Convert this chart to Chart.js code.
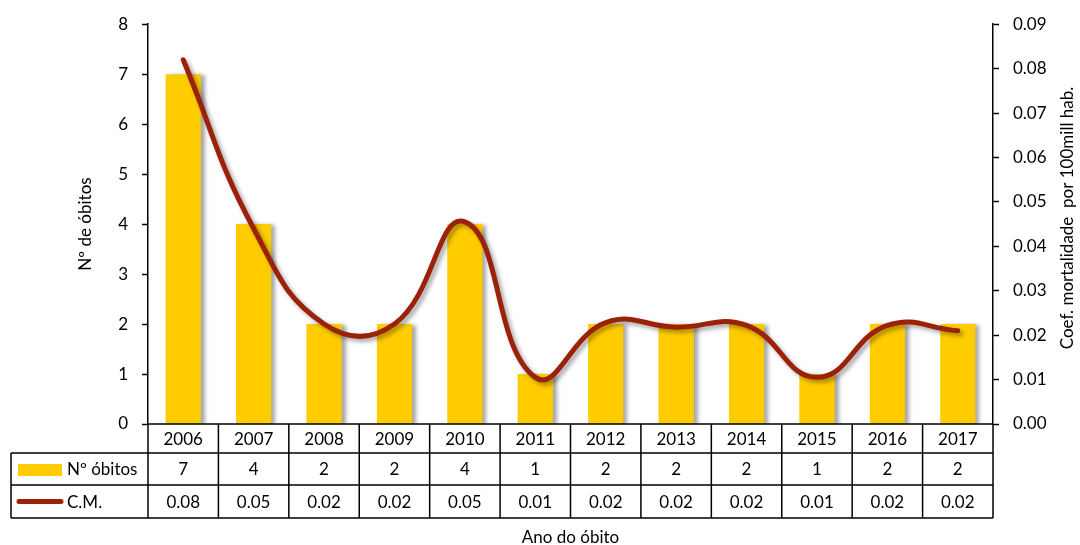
<!DOCTYPE html>
<html>
<head>
<meta charset="utf-8">
<script src="https://cdn.jsdelivr.net/npm/chart.js@4"></script>
<style>
  html, body { margin: 0; padding: 0; background: #fff; }
  #wrap { width: 1080px; height: 545px; }
</style>
</head>
<body>
<div id="wrap"><canvas id="chart" width="1080" height="545"></canvas></div>
<script>
// data
const anos = ['2006', '2007', '2008', '2009', '2010', '2011', '2012', '2013', '2014', '2015', '2016', '2017'];
const obitos = [7, 4, 2, 2, 4, 1, 2, 2, 2, 1, 2, 2];
const coefMort = [0.082, 0.044, 0.0225, 0.0225, 0.0455, 0.0105, 0.0228, 0.0218, 0.0222, 0.0105, 0.0222, 0.021];
const coefTabela = ['0.08', '0.05', '0.02', '0.02', '0.05', '0.01', '0.02', '0.02', '0.02', '0.01', '0.02', '0.02'];

const FONT = 'Lato, "Open Sans", sans-serif';
const amarelo = '#FFCC00';
const vermelho = '#9C2109';

// shadow under bars and line
const sombra = {
    id: 'sombra',
    beforeDatasetDraw(chart, args) {
        const ctx = chart.ctx;
        ctx.save();
        ctx.shadowColor = 'rgba(0,0,0,0.35)';
        ctx.shadowBlur = 4;
        ctx.shadowOffsetX = args.meta.type === 'bar' ? 4 : 3;
        ctx.shadowOffsetY = args.meta.type === 'bar' ? 1 : 3;
    },
    afterDatasetDraw(chart) {
        chart.ctx.restore();
    }
};

// data table + axis titles
const tabela = {
    id: 'tabela',
    afterDraw(chart) {
        const ctx = chart.ctx;
        const x = chart.scales.x;
        const area = chart.chartArea;
        const passo = x.getPixelForValue(1) - x.getPixelForValue(0);
        const r0 = area.bottom, r1 = r0 + 29, r2 = r1 + 32, r3 = r2 + 33;
        const esq = 11;

        ctx.save();
        ctx.strokeStyle = '#000';
        ctx.lineWidth = 1.5;
        ctx.beginPath();
        // horizontal lines
        ctx.moveTo(area.left, r0); ctx.lineTo(area.right, r0);
        ctx.moveTo(esq, r1); ctx.lineTo(area.right, r1);
        ctx.moveTo(esq, r2); ctx.lineTo(area.right, r2);
        ctx.moveTo(esq, r3); ctx.lineTo(area.right, r3);
        // vertical lines
        ctx.moveTo(esq, r1); ctx.lineTo(esq, r3);
        for (let i = 0; i <= anos.length; i++) {
            const xx = area.left + i * passo;
            ctx.moveTo(xx, r0); ctx.lineTo(xx, r3);
        }
        ctx.stroke();

        ctx.fillStyle = '#000';
        ctx.font = '17px ' + FONT;
        ctx.textAlign = 'center';
        ctx.textBaseline = 'middle';
        anos.forEach((a, i) => {
            const cx = x.getPixelForValue(i);
            ctx.fillText(a, cx, (r0 + r1) / 2 + 1);
            ctx.fillText(String(obitos[i]), cx, (r1 + r2) / 2 + 1);
            ctx.fillText(coefTabela[i], cx, (r2 + r3) / 2 + 1);
        });

        // legend keys
        ctx.fillStyle = amarelo;
        ctx.fillRect(18, r1 + 11, 44, 12);
        ctx.strokeStyle = vermelho;
        ctx.lineWidth = 5;
        ctx.lineCap = 'round';
        ctx.beginPath();
        ctx.moveTo(19, (r2 + r3) / 2);
        ctx.lineTo(61, (r2 + r3) / 2);
        ctx.stroke();
        ctx.fillStyle = '#000';
        ctx.textAlign = 'left';
        ctx.fillText('Nº óbitos', 67, (r1 + r2) / 2 + 1);
        ctx.fillText('C.M.', 67, (r2 + r3) / 2 + 1);

        // axis titles
        ctx.textAlign = 'center';
        ctx.fillText('Ano do óbito', (area.left + area.right) / 2, 538);
        ctx.save();
        ctx.translate(86, 224);
        ctx.rotate(-Math.PI / 2);
        ctx.fillText('Nº de óbitos', 0, 0);
        ctx.restore();
        ctx.save();
        ctx.translate(1068, 218);
        ctx.rotate(-Math.PI / 2);
        ctx.fillText('Coef. mortalidade  por 100mill hab.', 0, 0);
        ctx.restore();
        ctx.restore();
    }
};

const ctx = document.getElementById('chart').getContext('2d');
new Chart(ctx, {
    type: 'bar',
    data: {
        labels: anos,
        datasets: [{
            type: 'line',
            label: 'C.M.',
            data: coefMort,
            yAxisID: 'y1',
            borderColor: vermelho,
            borderWidth: 5,
            borderCapStyle: 'round',
            pointRadius: 0,
            tension: 0.45,
            fill: false,
            order: 0
        }, {
            label: 'Nº óbitos',
            data: obitos,
            yAxisID: 'y',
            backgroundColor: amarelo,
            barPercentage: 0.5,
            categoryPercentage: 1,
            order: 1
        }]
    },
    options: {
        responsive: false,
        animation: false,
        layout: { padding: { top: 23, left: 0, right: 0, bottom: 0 } },
        plugins: {
            legend: { display: false },
            tooltip: { enabled: false }
        },
        scales: {
            x: {
                grid: { display: false },
                border: { display: false },
                ticks: { display: false },
                afterFit: s => { s.height = 121; }
            },
            y: {
                position: 'left',
                min: 0,
                max: 8,
                ticks: { stepSize: 1, color: '#000', font: { family: FONT, size: 17 }, padding: 14 },
                grid: { drawOnChartArea: false, tickLength: 6, color: '#000', tickWidth: 1.5 },
                border: { color: '#000', width: 1.5 },
                afterFit: s => { s.width = 148; }
            },
            y1: {
                position: 'right',
                min: 0,
                max: 0.09,
                ticks: {
                    stepSize: 0.01, color: '#000', font: { family: FONT, size: 17 }, padding: 14,
                    callback: v => v.toFixed(2)
                },
                grid: { drawOnChartArea: false, tickLength: 6, color: '#000', tickWidth: 1.5 },
                border: { color: '#000', width: 1.5 },
                afterFit: s => { s.width = 87; }
            }
        }
    },
    plugins: [sombra, tabela]
});
</script>
</body>
</html>
